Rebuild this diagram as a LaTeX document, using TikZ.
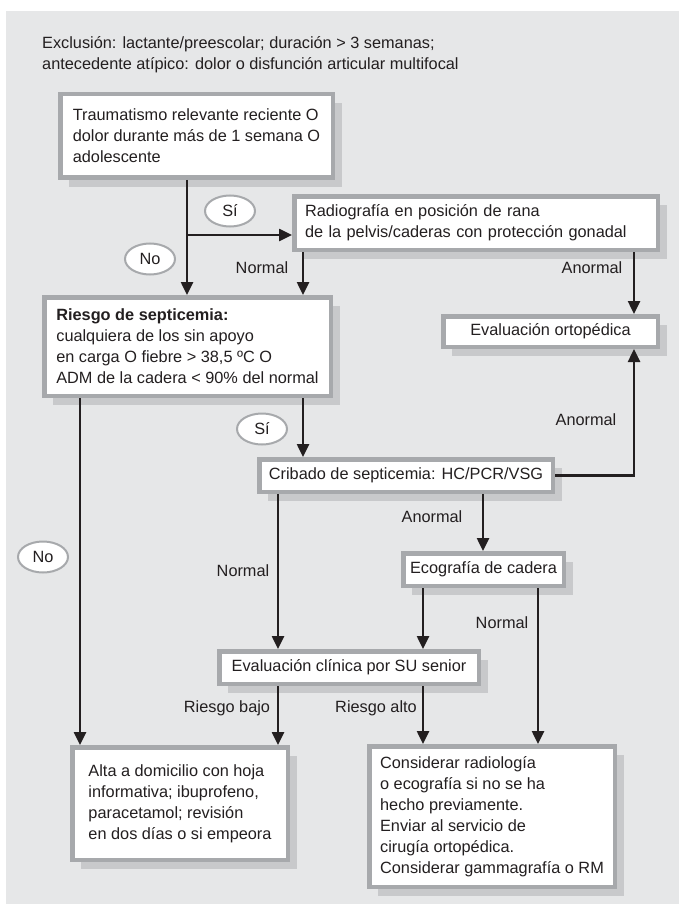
\documentclass[tikz,border=0pt]{standalone}
\usepackage{fontspec}
\setmainfont{Liberation Sans}
\usetikzlibrary{arrows.meta, positioning, shapes.geometric, shadows}
\definecolor{panel}{RGB}{230,231,232}
\definecolor{rim}{RGB}{167,169,172}
\definecolor{shade}{RGB}{200,201,203}
\definecolor{ink}{RGB}{35,31,32}
\newcommand{\flowfont}{\fontsize{16.3}{21}\selectfont}

\begin{document}
\begin{tikzpicture}[x=1pt, y=-1pt, font=\flowfont, text=ink,
  box/.style={draw=rim, line width=4.5pt, fill=white, anchor=north west, inner sep=0pt,
    drop shadow={shadow xshift=9pt, shadow yshift=-9pt, fill=shade, opacity=1}},
  lbox/.style={box, align=left},
  cbox/.style={box, align=center},
  oval/.style={ellipse, draw=rim, line width=2pt, fill=white, inner sep=0pt,
    minimum width=50pt, minimum height=31pt},
  lbl/.style={inner sep=0pt},
  arr/.style={draw=ink, line width=2.5pt, -{Triangle[length=13pt, width=12pt]}},
  link/.style={draw=ink, line width=2.5pt}]
  \useasboundingbox (0,0) rectangle (679,904);
  \fill[panel] (6,11) rectangle (679,904);

  % Exclusion note
  \node[lbl, anchor=west, align=left] (note) at (42,55)
    {Exclusión: lactante/preescolar; duración > 3 semanas;\\
     antecedente atípico: dolor o disfunción articular multifocal};

  % Boxes
  \node[lbox, minimum width=272.5pt, minimum height=83.5pt] (trauma) at (58,92)
    {Traumatismo relevante reciente O\\dolor durante más de 1 semana O\\adolescente};
  \node[lbox, minimum width=363.5pt, minimum height=53.5pt, text width=342pt,
    inner xsep=10.75pt] (radio) at (292,194)
    {Radiografía en posición de rana\\de la pelvis/caderas con protección gonadal};
  \node[lbox, minimum width=286.5pt, minimum height=98.5pt] (riesgo) at (42,295)
    {\textbf{Riesgo de septicemia:}\\cualquiera de los sin apoyo\\en carga O fiebre > 38,5 ºC O\\ADM de la cadera < 90\% del normal};
  \node[cbox, minimum width=214.5pt, minimum height=30.5pt] (orto) at (441,314)
    {Evaluación ortopédica};
  \node[cbox, minimum width=293.5pt, minimum height=32.5pt] (cribado) at (257,457)
    {Cribado de septicemia: HC/PCR/VSG};
  \node[cbox, minimum width=160.5pt, minimum height=32.5pt] (eco) at (401,551)
    {Ecografía de cadera};
  \node[cbox, minimum width=259.5pt, minimum height=32.5pt] (clinica) at (217,649)
    {Evaluación clínica por SU senior};
  \node[lbox, minimum width=215.5pt, minimum height=112.5pt] (alta) at (70,745)
    {Alta a domicilio con hoja\\informativa; ibuprofeno,\\paracetamol; revisión\\en dos días o si empeora};
  \node[lbox, minimum width=245.5pt, minimum height=140.5pt] (consid) at (367,744)
    {Considerar radiología\\o ecografía si no se ha\\hecho previamente.\\Enviar al servicio de\\cirugía ortopédica.\\Considerar gammagrafía o RM};

  % Columns for the vertical connectors
  \coordinate (xl) at (80,0);
  \coordinate (xt) at (187,0);
  \coordinate (xe) at (278,0);
  \coordinate (xs) at (303,0);
  \coordinate (xm) at (423,0);
  \coordinate (xc) at (483,0);
  \coordinate (xn) at (538,0);
  \coordinate (xo) at (634,0);
  \coordinate (fork) at (187,235);

  % Connectors
  \draw[arr] (trauma.south -| xt) -- (riesgo.north -| xt);
  \draw[arr] (fork) -- (fork -| radio.west);
  \draw[arr] (radio.south -| xs) -- (riesgo.north -| xs);
  \draw[arr] (radio.south -| xo) -- (orto.north -| xo);
  \draw[arr] (riesgo.south -| xs) -- (cribado.north -| xs);
  \draw[arr] (riesgo.south -| xl) -- (alta.north -| xl);
  \draw[arr] (cribado.east) -| (orto.south -| xo);
  \draw[arr] (cribado.south -| xe) -- (clinica.north -| xe);
  \draw[arr] (cribado.south -| xc) -- (eco.north -| xc);
  \draw[arr] (eco.south -| xm) -- (clinica.north -| xm);
  \draw[arr] (eco.south -| xn) -- (consid.north -| xn);
  \draw[arr] (clinica.south -| xe) -- (alta.north -| xe);
  \draw[arr] (clinica.south -| xm) -- (consid.north -| xm);

  % Yes / no tags
  \node[oval] (si1) at (230,211) {Sí};
  \node[oval] (no1) at (150,259) {No};
  \node[oval] (si2) at (262,429) {Sí};
  \node[oval] (no2) at (43,557) {No};

  % Branch labels
  \node[lbl] (normal1) at (262,268) {Normal};
  \node[lbl] (anormal1) at (592,268) {Anormal};
  \node[lbl] (anormal2) at (586,420) {Anormal};
  \node[lbl] (normal2) at (243,571) {Normal};
  \node[lbl] (anormal3) at (432,517) {Anormal};
  \node[lbl] (normal3) at (502,623) {Normal};
  \node[lbl] (bajo) at (227,708) {Riesgo bajo};
  \node[lbl] (alto) at (376,708) {Riesgo alto};
\end{tikzpicture}
\end{document}
